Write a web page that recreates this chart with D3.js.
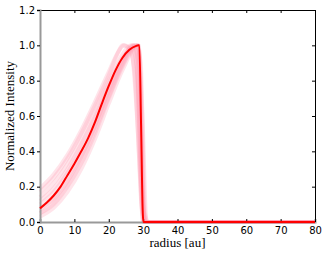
<!DOCTYPE html>
<html>
<head>
<meta charset="utf-8">
<script src="https://cdn.jsdelivr.net/npm/d3@7"></script>
<style>
  body { margin: 0; background: #fff; }
  svg { display: block; }
</style>
</head>
<body>
<div class="chart"></div>
<script>
// best-fit profile (red line)
const radius = [0, 2, 4, 6, 8, 10, 12, 14, 16, 18, 20, 22, 24, 26, 28, 28.6, 28.9, 29.4, 29.9, 30.1, 40, 50, 60, 70, 80];
const intensity = [0.077, 0.11, 0.15, 0.20, 0.265, 0.33, 0.40, 0.475, 0.565, 0.67, 0.77, 0.86, 0.93, 0.975, 0.997, 1.0, 1.0, 0.55, 0.05, 0, 0, 0, 0, 0, 0];

// posterior samples (pink lines), [radius, intensity]
const sample1 = [[0, 0.19], [4, 0.27], [8, 0.38], [12, 0.52], [16, 0.68], [20, 0.85], [23, 0.97], [24.5, 1.0], [26.5, 0.97], [28.5, 0.5], [29.5, 0.1], [30.5, 0], [80, 0]];
const sample2 = [[0, 0.14], [4, 0.22], [8, 0.33], [12, 0.47], [16, 0.63], [20, 0.80], [24, 0.95], [26.5, 1.0], [28, 0.9], [29.5, 0.2], [30.5, 0], [80, 0]];
const sample3 = [[0, 0.10], [4, 0.17], [8, 0.28], [12, 0.42], [16, 0.58], [20, 0.76], [24, 0.92], [27.5, 1.0], [29, 0.8], [30, 0.1], [31, 0], [80, 0]];
const sample4 = [[0, 0.05], [4, 0.11], [8, 0.21], [12, 0.35], [16, 0.52], [20, 0.71], [24, 0.89], [28, 1.0], [29.3, 0.9], [30.5, 0.05], [31.5, 0], [80, 0]];
const sample5 = [[0, 0.03], [4, 0.08], [8, 0.17], [12, 0.30], [16, 0.47], [20, 0.67], [24, 0.86], [28.5, 1.0], [29.8, 0.6], [31, 0], [80, 0]];
const sample6 = [[0, 0.07], [4, 0.14], [8, 0.25], [12, 0.38], [16, 0.55], [20, 0.74], [24, 0.91], [27, 1.0], [28.3, 0.92], [29.2, 0.3], [30, 0], [80, 0]];
const sample7 = [[0, 0.17], [4, 0.25], [8, 0.36], [12, 0.50], [16, 0.66], [20, 0.83], [22.5, 0.95], [24, 1.0], [26, 0.98], [27.5, 0.85], [29, 0.3], [30, 0], [80, 0]];
const sample8 = [[0, 0.12], [4, 0.19], [8, 0.30], [12, 0.44], [16, 0.60], [20, 0.78], [24, 0.93], [28.7, 1.0], [29.6, 0.5], [30.3, 0], [80, 0]];
const sample9 = [[0, 0.08], [4, 0.13], [8, 0.23], [12, 0.37], [16, 0.54], [20, 0.73], [24, 0.90], [26, 0.97], [27.3, 1.0], [28.6, 0.75], [29.8, 0.15], [30.8, 0], [80, 0]];
const sample10 = [[0, 0.05], [4, 0.10], [8, 0.20], [12, 0.33], [16, 0.50], [20, 0.70], [24, 0.88], [28.2, 1.0], [28.9, 0.97], [29.6, 0.35], [30.6, 0], [80, 0]];
const samples = [sample1, sample2, sample3, sample4, sample5, sample6, sample7, sample8, sample9, sample10];

const xTicks = [0, 10, 20, 30, 40, 50, 60, 70, 80];
const yTicks = [0.0, 0.2, 0.4, 0.6, 0.8, 1.0, 1.2];

// size
const W = 327, H = 256;
const margin = { top: 10, right: 12, bottom: 34, left: 40 };
const w = W - margin.left - margin.right,
    h = H - margin.top - margin.bottom;

const xScale = d3.scaleLinear().domain([0, 80]).range([margin.left, margin.left + w]);
const yScale = d3.scaleLinear().domain([0, 1.2]).range([margin.top + h, margin.top]);

const svg = d3.select("div.chart")
    .append("svg")
    .attr("width", W)
    .attr("height", H);

const line = d3.line()
    .x(d => xScale(d[0]))
    .y(d => yScale(d[1]))
    .curve(d3.curveMonotoneX);

// pink sample lines
svg.append("g")
    .selectAll("path")
    .data(samples)
    .enter()
    .append("path")
    .attr("d", line)
    .attr("fill", "none")
    .attr("stroke", "#ff9fb4")
    .attr("stroke-width", 4)
    .attr("stroke-opacity", 0.28);

// axis frame
const xAxisB = d3.axisBottom(xScale).tickValues(xTicks).tickSize(-3).tickPadding(5).tickFormat(d3.format("d"));
const xAxisT = d3.axisTop(xScale).tickValues(xTicks).tickSize(-3).tickFormat("");
const yAxisL = d3.axisLeft(yScale).tickValues(yTicks).tickSize(3).tickPadding(2).tickFormat(d3.format(".1f"));
const yAxisR = d3.axisRight(yScale).tickValues(yTicks).tickSize(-3).tickFormat("");

function styleAxis(g, color, width) {
    g.select(".domain").attr("stroke", color).attr("stroke-width", width);
    g.selectAll(".tick line").attr("stroke", "#000");
    g.selectAll(".tick text")
        .attr("fill", "#000")
        .style("font-family", "DejaVu Sans, sans-serif")
        .style("font-size", "10px");
}

svg.append("g").attr("transform", "translate(0," + margin.top + ")").call(xAxisT)
    .call(g => styleAxis(g, "#000", 1));
svg.append("g").attr("transform", "translate(" + (margin.left + w) + ",0)").call(yAxisR)
    .call(g => styleAxis(g, "#000", 1));
svg.append("g").attr("transform", "translate(0," + (margin.top + h) + ")").call(xAxisB)
    .call(g => styleAxis(g, "#999", 2));
svg.append("g").attr("transform", "translate(" + margin.left + ",0)").call(yAxisL)
    .call(g => styleAxis(g, "#999", 2));

// red best-fit line
svg.append("path")
    .datum(d3.zip(radius, intensity))
    .attr("d", line)
    .attr("fill", "none")
    .attr("stroke", "#ff0000")
    .attr("stroke-width", 2);

// axis titles
svg.append("text")
    .attr("x", margin.left + w / 2)
    .attr("y", 247)
    .attr("text-anchor", "middle")
    .style("font-family", "Liberation Serif, Times New Roman, serif")
    .style("font-size", "13px")
    .text("radius [au]");

svg.append("text")
    .attr("transform", "translate(14," + (margin.top + h / 2) + ") rotate(-90)")
    .attr("text-anchor", "middle")
    .style("font-family", "Liberation Serif, Times New Roman, serif")
    .style("font-size", "13px")
    .text("Normalized Intensity");
</script>
</body>
</html>
